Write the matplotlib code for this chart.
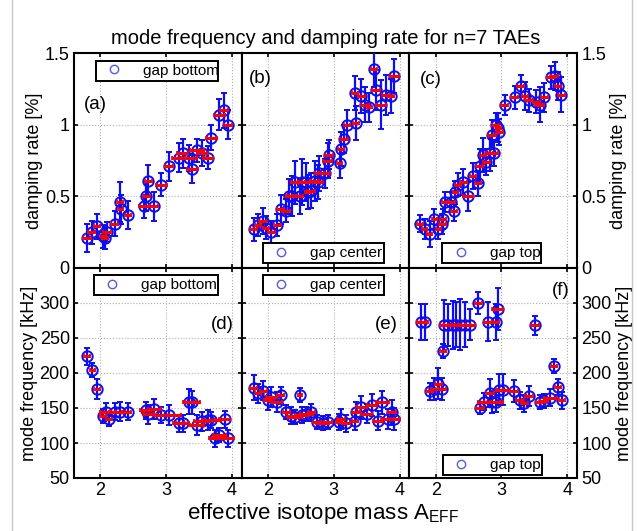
import numpy as np
import matplotlib.pyplot as plt
from matplotlib.lines import Line2D

plt.rcParams["font.family"] = ["Liberation Sans", "DejaVu Sans"]

# damping rate [%], gap bottom / center / top
xa = [1.80, 1.87, 1.95, 2.04, 2.10, 2.07, 2.22, 2.30, 2.31, 2.42, 2.67, 2.70, 2.73, 2.82,
      2.93, 3.04, 3.19, 3.25, 3.35, 3.40, 3.47, 3.55, 3.64, 3.69, 3.81, 3.88, 3.94]
ya = [0.21, 0.25, 0.29, 0.22, 0.25, 0.21, 0.31, 0.46, 0.41, 0.37, 0.43, 0.50, 0.61, 0.43,
      0.58, 0.71, 0.77, 0.80, 0.77, 0.69, 0.82, 0.80, 0.77, 0.91, 1.07, 1.10, 1.00]
ya_err = [0.10, 0.08, 0.09, 0.08, 0.07, 0.08, 0.09, 0.14, 0.10, 0.10, 0.08, 0.10, 0.11, 0.10,
          0.08, 0.10, 0.10, 0.10, 0.09, 0.10, 0.08, 0.09, 0.08, 0.09, 0.11, 0.12, 0.10]
xa_err = [0.06, 0.05, 0.05, 0.04, 0.06, 0.05, 0.05, 0.05, 0.04, 0.04, 0.08, 0.05, 0.05, 0.06,
          0.08, 0.06, 0.10, 0.08, 0.12, 0.08, 0.10, 0.08, 0.08, 0.08, 0.08, 0.06, 0.06]

xb = [1.78, 1.85, 1.92, 1.97, 2.05, 2.14, 2.19, 2.28, 2.32, 2.37, 2.41, 2.48, 2.51, 2.58,
      2.61, 2.66, 2.71, 2.76, 2.78, 2.86, 2.91, 2.93, 3.09, 3.11, 3.16, 3.20, 3.34, 3.32,
      3.42, 3.48, 3.54, 3.61, 3.64, 3.72, 3.80, 3.87, 3.92]
yb = [0.27, 0.30, 0.33, 0.28, 0.25, 0.30, 0.41, 0.40, 0.50, 0.50, 0.60, 0.50, 0.60, 0.60,
      0.53, 0.54, 0.61, 0.60, 0.66, 0.66, 0.75, 0.79, 0.73, 0.83, 0.90, 1.00, 1.01, 1.22,
      1.20, 1.14, 1.12, 1.39, 1.24, 1.14, 1.21, 1.20, 1.34]
yb_err = [0.08, 0.08, 0.09, 0.08, 0.08, 0.08, 0.10, 0.08, 0.12, 0.14, 0.15, 0.12, 0.16, 0.13,
          0.12, 0.12, 0.14, 0.12, 0.12, 0.10, 0.12, 0.10, 0.10, 0.12, 0.10, 0.10, 0.12, 0.12,
          0.12, 0.12, 0.10, 0.13, 0.14, 0.17, 0.14, 0.12, 0.12]
xb_err = [0.05, 0.05, 0.06, 0.05, 0.05, 0.05, 0.05, 0.06, 0.05, 0.06, 0.06, 0.05, 0.06, 0.06,
          0.05, 0.06, 0.06, 0.07, 0.07, 0.08, 0.07, 0.06, 0.04, 0.05, 0.06, 0.05, 0.05, 0.05,
          0.05, 0.06, 0.04, 0.05, 0.06, 0.08, 0.06, 0.05, 0.07]

xc = [1.76, 1.83, 1.91, 1.98, 2.04, 2.10, 2.11, 2.14, 2.24, 2.28, 2.30, 2.34, 2.42, 2.49,
      2.57, 2.64, 2.67, 2.72, 2.77, 2.82, 2.86, 2.89, 2.91, 2.95, 2.97, 3.05, 3.20, 3.29,
      3.36, 3.42, 3.53, 3.58, 3.65, 3.75, 3.81, 3.86, 3.91]
yc = [0.31, 0.27, 0.24, 0.34, 0.27, 0.31, 0.34, 0.46, 0.46, 0.40, 0.53, 0.58, 0.60, 0.50,
      0.64, 0.59, 0.71, 0.79, 0.74, 0.80, 0.93, 0.80, 1.00, 0.98, 0.95, 1.14, 1.19, 1.27,
      1.20, 1.17, 1.16, 1.14, 1.19, 1.33, 1.34, 1.27, 1.21]
yc_err = [0.06, 0.07, 0.09, 0.07, 0.07, 0.07, 0.07, 0.07, 0.07, 0.07, 0.08, 0.08, 0.09, 0.10,
          0.09, 0.09, 0.12, 0.12, 0.09, 0.12, 0.10, 0.09, 0.08, 0.10, 0.09, 0.07, 0.08, 0.08,
          0.10, 0.08, 0.08, 0.12, 0.10, 0.08, 0.10, 0.10, 0.12]
xc_err = [0.05, 0.04, 0.04, 0.04, 0.04, 0.05, 0.04, 0.05, 0.05, 0.05, 0.04, 0.05, 0.05, 0.07,
          0.05, 0.05, 0.05, 0.05, 0.05, 0.05, 0.06, 0.06, 0.05, 0.04, 0.06, 0.05, 0.05, 0.05,
          0.05, 0.06, 0.05, 0.06, 0.05, 0.06, 0.05, 0.05, 0.05]

# mode frequency [kHz]
xd = [1.80, 1.88, 1.95, 2.04, 2.08, 2.13, 2.23, 2.30, 2.42, 2.69, 2.73, 2.82, 2.93, 3.04,
      3.19, 3.25, 3.35, 3.40, 3.47, 3.55, 3.64, 3.69, 3.74, 3.81, 3.89, 3.94]
yd = [224, 204, 177, 139, 145, 134, 145, 145, 145, 147, 141, 149, 140, 140,
      128, 128, 159, 158, 126, 131, 133, 133, 107, 111, 134, 107]
yd_err = [12, 10, 14, 10, 12, 10, 12, 14, 12, 12, 14, 14, 12, 14,
          12, 12, 18, 16, 14, 14, 14, 12, 12, 10, 12, 12]
xd_err = [0.05, 0.04, 0.04, 0.05, 0.08, 0.05, 0.10, 0.08, 0.05, 0.08, 0.08, 0.10, 0.12, 0.18,
          0.08, 0.10, 0.10, 0.12, 0.10, 0.12, 0.10, 0.14, 0.08, 0.10, 0.08, 0.10]

xe = [1.78, 1.85, 1.93, 2.00, 2.05, 2.13, 2.19, 2.28, 2.35, 2.41, 2.48, 2.51, 2.58, 2.66,
      2.74, 2.83, 2.91, 3.08, 3.11, 3.19, 3.32, 3.34, 3.42, 3.50, 3.58, 3.67, 3.74, 3.82,
      3.89, 3.92]
ye = [179, 171, 175, 161, 166, 159, 168, 144, 139, 137, 168, 140, 142, 144,
      130, 129, 130, 130, 134, 128, 131, 144, 151, 142, 154, 132, 158, 134,
      144, 134]
ye_err = [18, 14, 14, 14, 14, 14, 12, 10, 12, 10, 10, 12, 10, 12,
          10, 10, 10, 12, 14, 12, 12, 14, 16, 14, 16, 14, 16, 14, 18, 16]
xe_err = [0.06, 0.05, 0.05, 0.06, 0.08, 0.08, 0.05, 0.05, 0.06, 0.10, 0.03, 0.10, 0.10, 0.05,
          0.06, 0.10, 0.06, 0.05, 0.06, 0.06, 0.05, 0.06, 0.08, 0.08, 0.08, 0.08, 0.10, 0.10,
          0.06, 0.08]

xf = [1.77, 1.83, 1.91, 1.98, 2.04, 2.09, 2.11, 2.13, 2.19, 2.26, 2.31, 2.37, 2.44, 2.52,
      2.65, 2.67, 2.74, 2.79, 2.82, 2.86, 2.91, 2.94, 2.92, 2.97, 3.03, 3.19, 3.28, 3.35,
      3.42, 3.51, 3.58, 3.65, 3.74, 3.80, 3.86, 3.92]
yf = [273, 273, 174, 177, 185, 177, 232, 268, 269, 269, 269, 269, 269, 269,
      300, 150, 159, 273, 171, 159, 273, 291, 159, 176, 176, 174, 161, 157,
      167, 268, 159, 160, 165, 210, 180, 161]
yf_err = [26, 26, 12, 16, 22, 16, 10, 36, 30, 34, 32, 36, 32, 22,
          16, 8, 12, 28, 20, 16, 26, 30, 14, 22, 22, 16, 12, 12,
          14, 14, 10, 10, 12, 10, 12, 12]
xf_err = [0.06, 0.06, 0.05, 0.05, 0.05, 0.06, 0.04, 0.06, 0.06, 0.08, 0.08, 0.08, 0.08, 0.08,
          0.06, 0.06, 0.10, 0.06, 0.06, 0.12, 0.06, 0.08, 0.10, 0.06, 0.10, 0.06, 0.06, 0.06,
          0.06, 0.06, 0.06, 0.06, 0.10, 0.05, 0.05, 0.05]

fig = plt.figure(figsize=(6.37, 5.31), dpi=100)

x0, pw = 74 / 637, 167.7 / 637
top_b, top_h = 1 - 268 / 531, 215 / 531
bot_b, bot_h = 1 - 478 / 531, 210 / 531

panels = [
    (xa, ya, xa_err, ya_err, 0, "top", "(a)", (0.13, 0.76), "gap bottom", (0.13, 0.86, 0.73, 0.105), "upper left"),
    (xb, yb, xb_err, yb_err, 1, "top", "(b)", (0.11, 0.88), "gap center", (0.126, 0.022, 0.72, 0.095), "lower left"),
    (xc, yc, xc_err, yc_err, 2, "top", "(c)", (0.125, 0.875), "gap top", (0.196, 0.022, 0.59, 0.095), "lower left"),
    (xd, yd, xd_err, yd_err, 0, "bot", "(d)", (0.887, 0.733), "gap bottom", (0.12, 0.86, 0.74, 0.105), "upper left"),
    (xe, ye, xe_err, ye_err, 1, "bot", "(e)", (0.86, 0.733), "gap center", (0.126, 0.86, 0.72, 0.105), "upper left"),
    (xf, yf, xf_err, yf_err, 2, "bot", "(f)", (0.90, 0.895), "gap top", (0.2, 0.014, 0.59, 0.11), "lower left"),
]

blue = (0.05, 0.05, 0.95)
for x, y, xerr, yerr, col, row, tag, tag_pos, leg_txt, leg_box, leg_loc in panels:
    if row == "top":
        ax = fig.add_axes([x0 + col * pw, top_b, pw, top_h])
    else:
        ax = fig.add_axes([x0 + col * pw, bot_b, pw, bot_h])

    ax.errorbar(x, y, yerr=yerr, fmt="o", ms=7.5, mfc="none", mec=blue, mew=1.4,
                ecolor=blue, elinewidth=1.6, capsize=2.2, capthick=1.4, zorder=3)
    ax.errorbar(x, y, xerr=xerr, fmt="none", ecolor="red", elinewidth=2.2,
                capsize=1.3, capthick=1.3, zorder=4)

    ax.set_xlim(1.6, 4.15)
    ax.set_xticks([2, 3, 4])
    if row == "top":
        ax.set_ylim(0, 1.5)
        ax.set_yticks([0, 0.5, 1, 1.5])
        ax.set_yticklabels(["0", "0.5", "1", "1.5"])
        ax.set_xticklabels([])
        ylab = "damping rate [%]"
    else:
        ax.set_ylim(50, 350)
        ax.set_yticks([50, 100, 150, 200, 250, 300])
        ylab = "mode frequency [kHz]"

    ax.grid(True, ls=":", color="#b0b0b0", lw=0.8)
    ax.set_axisbelow(True)
    ax.tick_params(direction="in", top=True, right=True, length=3, width=1.2,
                   labelsize=13, pad=3)
    for s in ax.spines.values():
        s.set_linewidth(1.5)

    if col == 1:
        ax.set_yticklabels([])
    elif col == 2:
        ax.yaxis.tick_right()
        ax.tick_params(left=True, direction="in")
        ax.yaxis.set_label_position("right")
        ax.set_ylabel(ylab, fontsize=13, labelpad=3)
    else:
        ax.set_ylabel(ylab, fontsize=13, labelpad=1)

    ax.text(tag_pos[0], tag_pos[1], tag, transform=ax.transAxes, fontsize=13.5,
            ha="center", va="center")

    handle = Line2D([], [], marker="o", ls="none", mfc="none",
                    mec=(0.35, 0.35, 0.9), ms=6, mew=1.0)
    leg = ax.legend([handle], [leg_txt], loc=leg_loc, bbox_to_anchor=leg_box,
                    mode="expand", fontsize=11, frameon=True, fancybox=False,
                    framealpha=1, handlelength=2.0, handletextpad=0.9,
                    borderpad=0.2, borderaxespad=0)
    leg.get_frame().set_edgecolor("black")
    leg.get_frame().set_linewidth(1.4)

fig.text(325.5 / 637, 1 - 38 / 531, "mode frequency and damping rate for n=7 TAEs",
         ha="center", va="center", fontsize=14.5)
fig.text(323 / 637, 1 - 513 / 531, r"effective isotope mass A$_\mathregular{EFF}$",
         ha="center", va="center", fontsize=16)

# thin grey frame of the original screenshot
fig.add_artist(Line2D([12 / 637, 12 / 637], [0, 1], color="#c8c8c8", lw=1))
fig.add_artist(Line2D([632 / 637, 632 / 637], [0, 1], color="#c8c8c8", lw=1))

fig.savefig("out.png", dpi=100)
